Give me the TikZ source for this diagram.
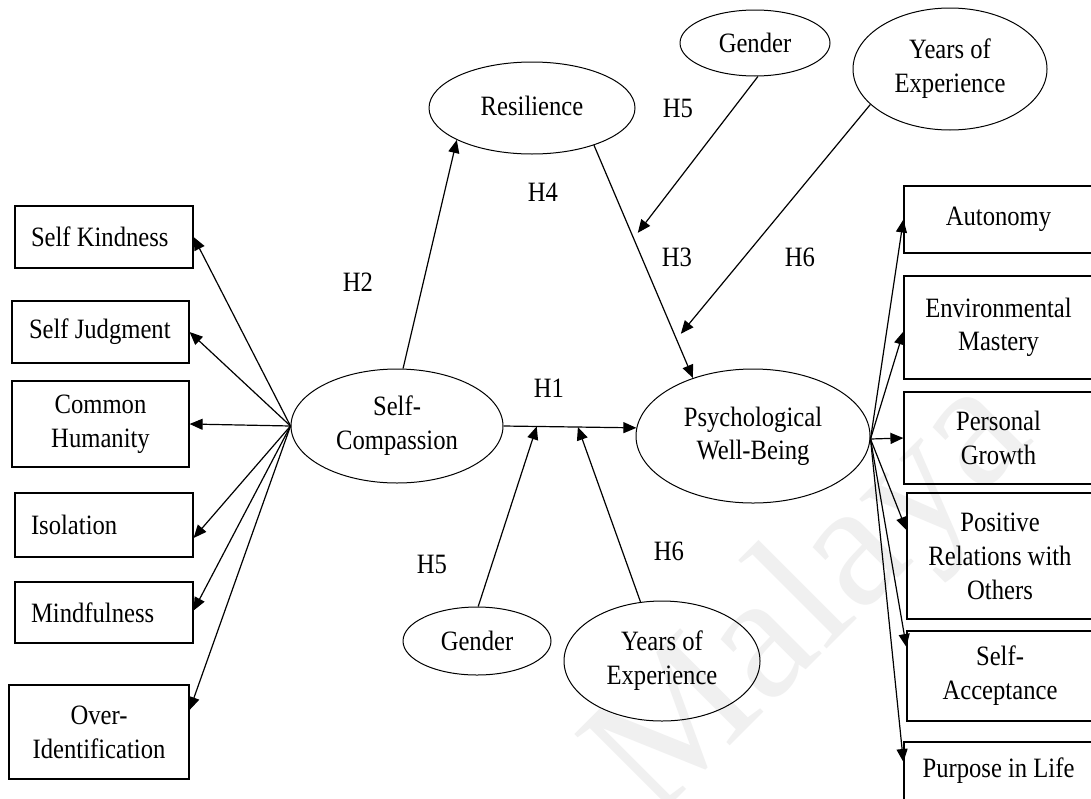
\documentclass[tikz,border=0pt]{standalone}
\usepackage{fontspec}
\setmainfont{Liberation Serif}[FakeStretch=0.88]
\newfontfamily\wmfont{Liberation Serif}
\usetikzlibrary{arrows.meta,shapes.geometric}

% fixed-width box so single-line labels sit flush left inside their frames
\newcommand\lefttxt[1]{\makebox[146pt][l]{#1}}

\tikzset{
  every node/.style={font=\fontsize{28}{34}\selectfont, text=black},
  ell/.style={draw, ellipse, line width=1pt, inner sep=0pt, align=center},
  stepbox/.style={draw, rectangle, line width=1.2pt, inner sep=0pt, align=center},
  arr/.style={-{Triangle[length=13pt,width=11pt]}, line width=1.2pt, draw=black},
  hlabel/.style={inner sep=0pt},
}

\begin{document}
\begin{tikzpicture}[x=1pt, y=-1pt]
\useasboundingbox (0,0) rectangle (1091,798);
\clip (0,0) rectangle (1091,798);
\fill[white] (0,0) rectangle (1091,798);

% faint watermark
\node[rotate=45, text=black!6, font=\wmfont\fontsize{180}{180}\selectfont] (wm) at (815,600) {Malaya};

% central constructs
\node[ell, minimum width=212, minimum height=114] (sc) at (397,426) {Self-\\Compassion};
\node[ell, minimum width=234, minimum height=134] (pwb) at (753,436) {\raisebox{5pt}{\begin{tabular}{@{}c@{}}Psychological\\[-1pt]Well-Being\end{tabular}}};
\node[ell, minimum width=206, minimum height=92] (res) at (532,108) {\raisebox{5pt}{Resilience}};

% moderators
\node[ell, minimum width=150, minimum height=66] (gtop) at (755,43) {Gender};
\node[ell, minimum width=194, minimum height=122] (ytop) at (950,69) {Years of\\Experience};
\node[ell, minimum width=148, minimum height=68] (gbot) at (477,641) {Gender};
\node[ell, minimum width=196, minimum height=120] (ybot) at (662,661) {Years of\\Experience};

% self-compassion components
\node[stepbox, minimum width=178, minimum height=62] (sk) at (104,237) {\lefttxt{Self Kindness}};
\node[stepbox, minimum width=177, minimum height=62] (sj) at (100.5,332) {\makebox[143pt][l]{Self Judgment}};
\node[stepbox, minimum width=177, minimum height=86] (ch) at (100.5,424) {Common\\Humanity};
\node[stepbox, minimum width=178, minimum height=64] (iso) at (104,525) {\lefttxt{Isolation}};
\node[stepbox, minimum width=178, minimum height=61] (mind) at (104,612.5) {\lefttxt{Mindfulness}};
\node[stepbox, minimum width=180, minimum height=94] (oi) at (99,732) {Over-\\Identification};

% well-being components
\node[stepbox, minimum width=189, minimum height=67] (aut) at (998.5,219.5) {\raisebox{5pt}{Autonomy}};
\node[stepbox, minimum width=189, minimum height=103] (em) at (998.5,327.5) {\raisebox{6pt}{\begin{tabular}{@{}c@{}}Environmental\\[-1pt]Mastery\end{tabular}}};
\node[stepbox, minimum width=189, minimum height=92] (pg) at (998.5,438) {Personal\\Growth};
\node[stepbox, minimum width=186, minimum height=126] (pr) at (1000,556) {Positive\\Relations with\\Others};
\node[stepbox, minimum width=186, minimum height=90] (sa) at (1000,676) {Self-\\Acceptance};
\node[stepbox, minimum width=189, minimum height=58] (pl) at (998.5,771) {Purpose in Life};

% hypothesis labels
\node[hlabel] (h1) at (549,388) {H1};
\node[hlabel] (h2) at (358,282) {H2};
\node[hlabel] (h3) at (677,257) {H3};
\node[hlabel] (h4) at (543,192) {H4};
\node[hlabel] (h5a) at (678,108) {H5};
\node[hlabel] (h6a) at (800,257) {H6};
\node[hlabel] (h5b) at (432,564) {H5};
\node[hlabel] (h6b) at (669,551) {H6};

% self-compassion to its components
\draw[arr] (sc.west) -- (sk.east);
\draw[arr] (sc.west) -- (sj.east);
\draw[arr] (sc.west) -- (ch.east);
\draw[arr] (sc.west) -- ([yshift=-13pt]iso.east);
\draw[arr] (sc.west) -- ([yshift=2pt]mind.east);
\draw[arr] (sc.west) -- ([yshift=22pt]oi.east);

% well-being to its components
\coordinate (po) at ([yshift=-3pt]pwb.east);
\draw[arr] (po) -- (aut.west);
\draw[arr] (po) -- ([yshift=-4pt]em.west);
\draw[arr] (po) -- (pg.west);
\draw[arr] (po) -- ([yshift=26pt]pr.west);
\draw[arr] (po) -- ([yshift=29pt]sa.west);
\draw[arr] (po) -- ([yshift=9pt]pl.west);

% structural paths
\draw[arr] (sc.84) -- (res.203);
\draw[arr] (res.329) -- (pwb.136);
\draw[arr] (sc.east) -- (pwb.176);

% moderating paths
\path (sc.east) -- (pwb.176) coordinate[pos=0.25] (m1) coordinate[pos=0.56] (m2);
\path (res.329) -- (pwb.136) coordinate[pos=0.40] (r1) coordinate[pos=0.833] (r2);
\draw[arr] (gbot.88) -- (m1);
\draw[arr] (ybot.110) -- (m2);
\draw[arr, shorten >=7pt] (gtop.275) -- (r1);
\draw[arr, shorten >=7pt] (ytop.204) -- (r2);
\end{tikzpicture}
\end{document}
